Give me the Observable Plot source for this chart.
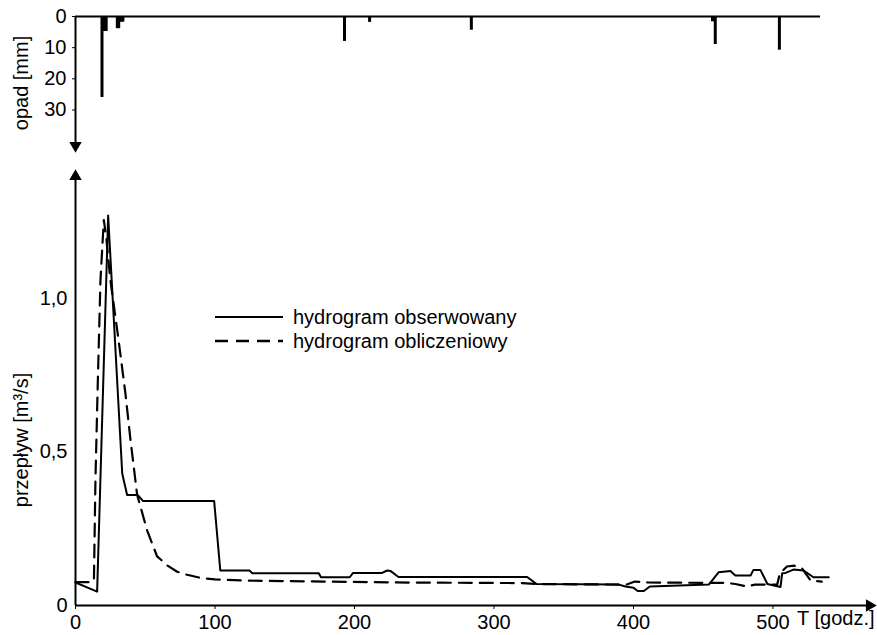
<!DOCTYPE html>
<html>
<head>
<meta charset="utf-8">
<script src="https://cdn.jsdelivr.net/npm/d3@7"></script>
<script src="https://cdn.jsdelivr.net/npm/@observablehq/plot@0.6"></script>
<style>
  html, body { margin: 0; padding: 0; background: #fff; }
  body { font-family: "Liberation Sans", Arial, sans-serif; color: #000; }
  #wrap { position: relative; width: 877px; height: 635px; overflow: hidden; }
  #top { position: absolute; left: 0; top: 0; }
  #bot { position: absolute; left: 0; top: 160px; }
  .ytitle { position: absolute; font-size: 20px; white-space: nowrap; transform: translate(-50%, -50%) rotate(-90deg); }
  .legend { position: absolute; left: 215px; top: 305px; font-size: 20px; line-height: 24px; }
  .legend .row { display: flex; align-items: center; height: 24px; }
  .legend svg { margin-right: 10px; }
</style>
</head>
<body>
<div id="wrap">
  <div id="top"></div>
  <div id="bot"></div>
  <div class="ytitle" style="left:21px; top:83px;">opad [mm]</div>
  <div class="ytitle" style="left:21px; top:440px;">przepływ [m³/s]</div>
  <div class="legend">
    <div class="row"><svg width="68" height="6"><line x1="0" x2="68" y1="3" y2="3" stroke="#000" stroke-width="2"/></svg>hydrogram obserwowany</div>
    <div class="row"><svg width="68" height="6"><line x1="0" x2="68" y1="3" y2="3" stroke="#000" stroke-width="2.4" stroke-dasharray="13,8"/></svg>hydrogram obliczeniowy</div>
  </div>
</div>
<script>
// Precipitation (opad) [mm] by time T [h]
const rainT  = [19, 20, 21, 22, 30, 31, 32, 33, 34, 193, 211, 284, 457, 459, 505];
const rainMm = [26, 4.8, 4.8, 4.8, 3.9, 3.9, 1.8, 1.8, 1.8, 8.0, 1.9, 4.4, 1.7, 9.0, 10.8];

// Observed hydrograph (hydrogram obserwowany) [m3/s]
const obsT = [0, 15.5, 23.4, 33.5, 37, 44.5, 45.5, 48.5, 99.4, 103.8, 124.7, 126.8, 174.4, 176, 196.6, 199, 219.8, 223.4, 226, 231.5, 323.8, 330.5, 389.5, 394.3, 400, 403, 407.4, 411.7, 454, 461, 469.5, 473, 484, 486, 491, 496, 505.4, 506.6, 509, 514.7, 522, 529, 540];
const obsQ = [0.075, 0.045, 1.27, 0.43, 0.36, 0.36, 0.355, 0.34, 0.34, 0.114, 0.114, 0.105, 0.105, 0.092, 0.092, 0.106, 0.106, 0.114, 0.112, 0.093, 0.093, 0.07, 0.068, 0.062, 0.058, 0.047, 0.047, 0.062, 0.068, 0.108, 0.112, 0.098, 0.098, 0.116, 0.116, 0.07, 0.06, 0.105, 0.106, 0.117, 0.114, 0.092, 0.092];

// Computed hydrograph (hydrogram obliczeniowy) [m3/s]
const calcT = [0, 9.5, 13.2, 14.3, 16, 17.9, 20.3, 22, 25, 31, 35.8, 39.4, 44.2, 51.4, 58.5, 66, 72.9, 80, 89.6, 100, 123, 180, 230, 320, 330, 395, 401, 410, 440, 466, 473, 481, 487, 496, 503, 505, 510, 515, 521, 527, 535];
const calcQ = [0.076, 0.076, 0.08, 0.41, 0.73, 1.06, 1.255, 1.2, 1.06, 0.86, 0.69, 0.54, 0.36, 0.244, 0.16, 0.13, 0.11, 0.1, 0.09, 0.085, 0.081, 0.078, 0.075, 0.073, 0.07, 0.068, 0.078, 0.075, 0.074, 0.074, 0.07, 0.062, 0.068, 0.068, 0.068, 0.105, 0.127, 0.13, 0.12, 0.081, 0.078];

// Tick labels
const rainTicks = [0, 10, 20, 30];
const xTicks = [0, 100, 200, 300, 400, 500];
const yTicks = [0, 0.5, 1.0];

const rain = rainT.map((T, i) => ({T, mm: rainMm[i]}));
const obs = obsT.map((T, i) => ({T, Q: obsQ[i]}));
const calc = calcT.map((T, i) => ({T, Q: calcQ[i]}));

const font = {fontFamily: "'Liberation Sans', Arial, sans-serif", fontSize: "20px", color: "#000", background: "transparent", overflow: "visible"};

const topChart = Plot.plot({
  width: 822, height: 160,
  marginLeft: 75, marginRight: 2, marginTop: 16, marginBottom: 10,
  style: font,
  x: {domain: [0, 534.5], axis: null},
  y: {domain: [0, 43], reverse: true, axis: null},
  marks: [
    Plot.ruleX(rain, {x: "T", y1: 0, y2: "mm", stroke: "#000", strokeWidth: 3}),
    Plot.ruleY([0], {stroke: "#000", strokeWidth: 2}),
    Plot.ruleX([0], {stroke: "#000", strokeWidth: 2}),
    Plot.axisY({ticks: rainTicks, tickSize: 3, tickPadding: 6, label: null}),
    Plot.dot([0], {frameAnchor: "bottom-left", symbol: "triangle", r: 4.6, fill: "#000", stroke: null, rotate: 180, dy: -5})
  ]
});
document.getElementById("top").appendChild(topChart);

const fmt = d => d === 0 ? "0" : d.toFixed(1).replace(".", ",");

const botChart = Plot.plot({
  width: 877, height: 475,
  marginLeft: 75, marginRight: 2, marginTop: 12, marginBottom: 30,
  style: font,
  x: {domain: [0, 573.5], axis: null},
  y: {domain: [0, 1.41], axis: null},
  marks: [
    Plot.line(calc, {x: "T", y: "Q", stroke: "#000", strokeWidth: 2.2, strokeDasharray: "13,8"}),
    Plot.line(obs, {x: "T", y: "Q", stroke: "#000", strokeWidth: 2}),
    Plot.ruleY([0], {stroke: "#000", strokeWidth: 2}),
    Plot.ruleX([0], {stroke: "#000", strokeWidth: 2}),
    Plot.axisX({ticks: xTicks, tickSize: 4, tickPadding: 5, label: null}),
    Plot.axisY({ticks: yTicks, tickSize: 0, tickPadding: 8, tickFormat: fmt, label: null}),
    Plot.text(["T [godz.]"], {frameAnchor: "bottom-right", textAnchor: "end", dy: 19, dx: -1, fill: "#000"}),
    Plot.dot([0], {frameAnchor: "top-left", symbol: "triangle", r: 4.6, fill: "#000", stroke: null, dy: 4}),
    Plot.dot([0], {frameAnchor: "bottom-right", symbol: "triangle", r: 4.6, fill: "#000", stroke: null, rotate: 90, dx: -6})
  ]
});
document.getElementById("bot").appendChild(botChart);
</script>
</body>
</html>
